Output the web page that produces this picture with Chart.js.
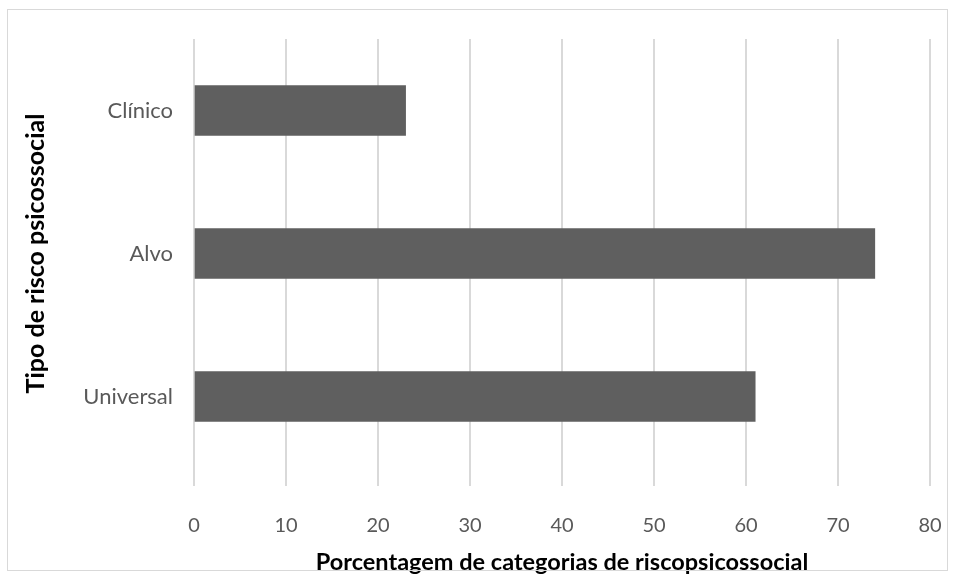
<!DOCTYPE html>
<html>
<head>
<meta charset="utf-8">
<script src="https://cdn.jsdelivr.net/npm/chart.js@4/dist/chart.umd.min.js"></script>
<style>
  body { margin: 0; background: #fff; }
  #wrap { position: relative; width: 955px; height: 578px; }
  #frame { position: absolute; left: 7px; top: 9px; width: 939px; height: 560px; border: 1px solid #d9d9d9; pointer-events: none; }
</style>
</head>
<body>
<div id="wrap">
  <canvas id="myChart" width="955" height="578"></canvas>
  <div id="frame"></div>
</div>
<script>
const categorias = ["Clínico", "Alvo", "Universal"];
const porcentagens = [23, 74, 61];
const ticksX = [0, 10, 20, 30, 40, 50, 60, 70, 80];

const fonte = "Lato, 'Open Sans', sans-serif";
const cinza = "#595959";

const data = {
  labels: categorias,
  datasets: [{
    data: porcentagens,
    backgroundColor: "#5f5f5f",
    borderWidth: 0,
    barThickness: 50
  }]
};

const config = {
  type: "bar",
  data,
  options: {
    indexAxis: "y",
    responsive: false,
    animation: false,
    layout: { padding: { top: 39, right: 25, left: 21, bottom: 0 } },
    plugins: { legend: { display: false }, tooltip: { enabled: false } },
    scales: {
      x: {
        min: 0,
        max: 80,
        afterBuildTicks: (axis) => { axis.ticks = ticksX.map(v => ({ value: v })); },
        afterFit: (axis) => { axis.height = 110; axis.paddingLeft = 0; axis.paddingRight = 0; },
        grid: { color: "#d9d9d9", lineWidth: 2, tickLength: 18, drawTicks: true },
        border: { display: false },
        ticks: { color: cinza, font: { family: fonte, size: 20 }, padding: 28, maxRotation: 0 },
        title: {
          display: true,
          text: "Porcentagem de categorias de riscopsicossocial",
          color: "#000",
          font: { family: fonte, size: 23.5, weight: "bold" },
          padding: { top: 12, bottom: 1 }
        }
      },
      y: {
        afterFit: (axis) => { axis.width = 173; },
        grid: { display: false, drawTicks: false },
        border: { display: false },
        ticks: { color: cinza, font: { family: fonte, size: 22 }, padding: 21 },
        title: {
          display: true,
          text: "Tipo de risco psicossocial",
          color: "#000",
          font: { family: fonte, size: 25, weight: "bold" },
          padding: { top: 0, bottom: 32 }
        }
      }
    }
  }
};

const chartDOM = document.getElementById("myChart");
const myChart = new Chart(chartDOM, config);
</script>
</body>
</html>
